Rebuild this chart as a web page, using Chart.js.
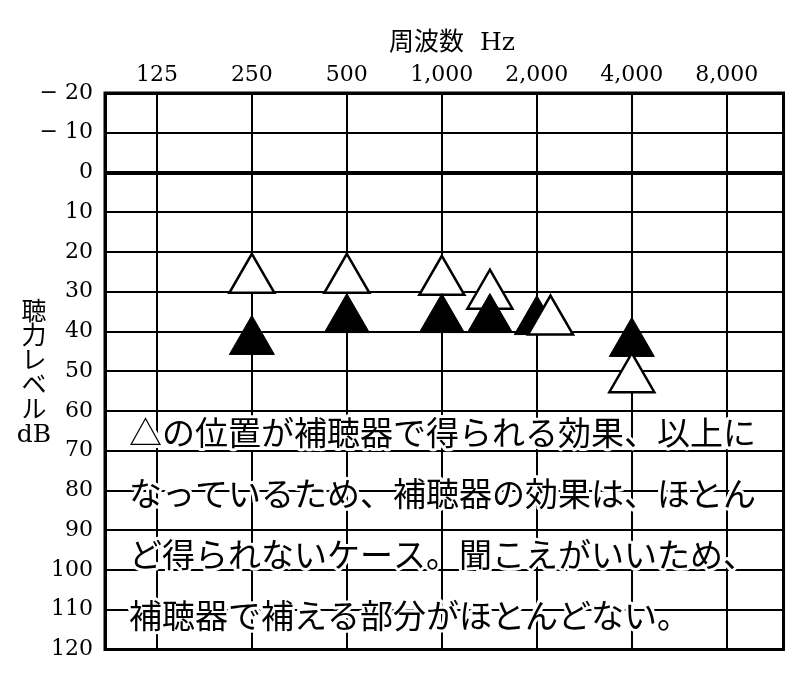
<!DOCTYPE html>
<html lang="ja">
<head>
<meta charset="utf-8">
<title>聴力レベル</title>
<script src="https://cdn.jsdelivr.net/npm/chart.js@4.4.1/dist/chart.umd.min.js"></script>
<style>
  html, body { margin: 0; padding: 0; background: #fff; }
  #wrap { position: relative; width: 812px; height: 678px; }
</style>
</head>
<body>
<div id="wrap"><canvas id="audiogram"></canvas></div>
<script>
// frequency axis (top)
const freqs = [125, 250, 500, 1000, 2000, 4000, 8000];
const freqLabels = ['125', '250', '500', '1,000', '2,000', '4,000', '8,000'];
const freqMin = 85.6;
const freqMax = 12100;

// hearing level axis (dB)
const levelMin = -20;
const levelMax = 120;
const levelStep = 10;

// open triangles
const openFreqs = [250, 500, 1000, 1420, 2210, 4000];
const openLevels = [27, 27, 27.5, 31, 37.5, 52];

// filled triangles
const filledFreqs = [250, 500, 1000, 1420, 2000, 4000];
const filledLevels = [42.5, 37, 37, 37, 37.5, 43];

const xTitle = '周波数  Hz';
const yTitleChars = ['聴', '力', 'レ', 'ベ', 'ル', 'dB'];
const noteLines = [
    '△の位置が補聴器で得られる効果、以上に',
    'なっているため、補聴器の効果は、ほとん',
    'ど得られないケース。聞こえがいいため、',
    '補聴器で補える部分がほとんどない。'
];

const serif = "'DejaVu Serif', 'Noto Sans CJK JP', serif";

function toPoints(xs, ys) {
    return xs.map((x, i) => ({ x: x, y: ys[i] }));
}

const openPoints = toPoints(openFreqs, openLevels);
const filledPoints = toPoints(filledFreqs, filledLevels);

function triangleSet(points, filled, order) {
    return {
        data: points,
        order: order,
        showLine: false,
        pointStyle: 'triangle',
        pointRadius: 26,
        pointHoverRadius: 26,
        backgroundColor: filled ? '#000' : '#fff',
        borderColor: '#000',
        borderWidth: filled ? 1 : 2.5
    };
}

const framePlugin = {
    id: 'frame',
    afterDraw(chart) {
        const { ctx, chartArea: a } = chart;
        ctx.save();
        ctx.strokeStyle = '#000';
        ctx.lineWidth = 3;
        ctx.strokeRect(a.left, a.top, a.right - a.left, a.bottom - a.top);

        ctx.fillStyle = '#000';
        ctx.textBaseline = 'middle';

        // axis titles
        ctx.font = '25px ' + serif;
        ctx.textAlign = 'left';
        ctx.fillText(xTitle, 389, 43);

        ctx.textAlign = 'center';
        yTitleChars.forEach((c, i) => ctx.fillText(c, 34, 313 + i * 24.5));

        // note over the grid
        ctx.font = "33px 'Noto Sans CJK JP', sans-serif";
        ctx.textAlign = 'left';
        ctx.lineJoin = 'round';
        noteLines.forEach((t, i) => {
            const y = 432 + i * 61;
            ctx.strokeStyle = '#fff';
            ctx.lineWidth = 6;
            ctx.strokeText(t, 129, y);
            ctx.fillText(t, 129, y);
        });
        ctx.restore();
    }
};

const config = {
    type: 'scatter',
    data: {
        datasets: [
            triangleSet(openPoints.filter(p => p.x > 2000), false, 0),
            triangleSet(filledPoints, true, 1),
            triangleSet(openPoints.filter(p => p.x <= 2000), false, 2)
        ]
    },
    options: {
        responsive: true,
        maintainAspectRatio: false,
        animation: false,
        events: [],
        layout: { padding: { left: 0, top: 0, right: 27, bottom: 26 } },
        plugins: {
            legend: { display: false },
            tooltip: { enabled: false }
        },
        scales: {
            x: {
                type: 'logarithmic',
                position: 'top',
                min: freqMin,
                max: freqMax,
                afterBuildTicks: scale => {
                    scale.ticks = freqs.map(v => ({ value: v }));
                },
                afterFit: scale => { scale.height = 93; },
                ticks: {
                    autoSkip: false,
                    maxRotation: 0,
                    padding: 5,
                    color: '#000',
                    font: { family: serif, size: 22 },
                    callback: (value, index) => freqLabels[index]
                },
                grid: { color: '#000', lineWidth: 2, drawTicks: false },
                border: { display: true, color: '#000', width: 3 }
            },
            y: {
                type: 'linear',
                reverse: true,
                min: levelMin,
                max: levelMax,
                afterFit: scale => { scale.width = 105; },
                ticks: {
                    stepSize: levelStep,
                    padding: 12,
                    color: '#000',
                    font: { family: serif, size: 22 },
                    callback: v => v < 0 ? '\u2212 ' + (-v) : String(v)
                },
                grid: {
                    color: '#000',
                    lineWidth: ctx => ctx.tick && ctx.tick.value === 0 ? 4 : 2,
                    drawTicks: false
                },
                border: { display: true, color: '#000', width: 3 }
            }
        }
    },
    plugins: [framePlugin]
};

new Chart(document.getElementById('audiogram'), config);
</script>
</body>
</html>
